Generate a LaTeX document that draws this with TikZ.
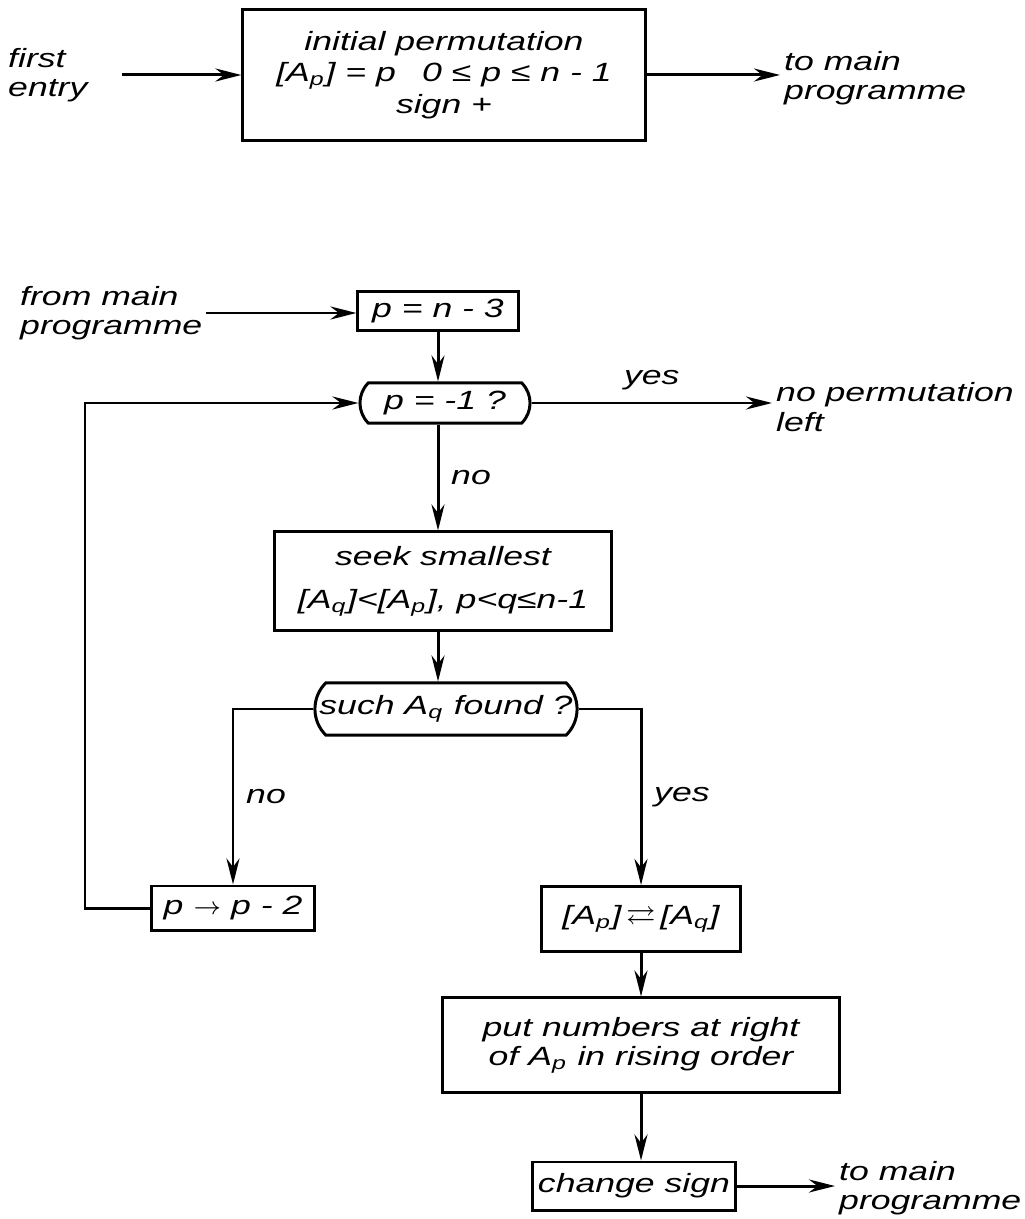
\documentclass[tikz,border=0pt]{standalone}
\usepackage{amssymb}
\usepackage{fontspec}
\setmainfont{Liberation Sans}[FakeStretch=1.35]
\usetikzlibrary{arrows.meta,shapes.misc,positioning}

\begin{document}
\begin{tikzpicture}[x=0.01cm, y=-0.01cm,
    every node/.style={font=\fontsize{7.5}{8.4}\selectfont\itshape},
    box/.style={draw, line width=0.85pt, align=center, inner sep=0pt},
    test/.style={draw, line width=0.85pt, rounded rectangle,
        rounded rectangle arc length=90, inner sep=0pt},
    lbl/.style={align=left, inner sep=1pt},
    arr/.style={line width=0.85pt, -{Stealth[length=2.6mm, width=1.3mm]}}]
    \useasboundingbox (0,0) rectangle (1025,1219);

    % First entry: the initial permutation
    \node[box, minimum width=4.02cm, minimum height=1.3cm] (init) at (444,75)
        {initial permutation\\[0.5pt] [A\textsubscript{p}] = p\quad 0 ≤ p ≤ n - 1\\[0.5pt] sign +};
    \node[lbl, anchor=west] (first) at (4,75) {first\\entry};
    \node[lbl, anchor=west] (main1) at (780,78) {to main\\programme};
    \draw[arr, shorten <=3mm] (first.east) -- (init.west);
    \draw[arr] (init.east) -- (init.east -| main1.west);

    % Later entries: step to the next permutation
    \node[box, minimum width=1.6cm, minimum height=0.38cm] (pn3) at (438,311) {p = n - 3};
    \node[lbl, anchor=west] (from) at (16,313) {from main\\programme};
    \draw[arr] (from.east) -- (from.east -| pn3.west);

    \node[test, minimum width=1.7cm, minimum height=0.4cm] (last) at (445,403) {p = -1 ?};
    \draw[arr] (pn3.south) -- (pn3.south |- last.north);
    \node[lbl, anchor=west] (none) at (772,407) {no permutation\\left};
    \draw[arr] (last.east) -- (last.east -| none.west) node[midway, above] {yes};

    \node[box, minimum width=3.37cm, minimum height=0.98cm] (seek) at (443,581)
        {seek smallest\\[4pt] [A\textsubscript{q}]<[A\textsubscript{p}], p<q≤n-1};
    \draw[arr] (last.south -| pn3) -- (pn3 |- seek.north) node[midway, right] {no};

    \node[test, minimum width=2.62cm, minimum height=0.52cm] (found) at (446,709)
        {such A\textsubscript{q} found ?};
    \draw[arr] (seek.south -| pn3) -- (pn3 |- found.north);

    % Not found: go back two places
    \node[box, minimum width=1.63cm, minimum height=0.44cm] (back) at (233,908)
        {p $\rightarrow$ p - 2};
    \draw[arr] (found.west) -| (back.north) node[pos=0.75, right] {no};
    \coordinate (loop) at (85,908);
    \draw[arr] (back.west) -- (loop) |- (last.west);

    % Found: swap, sort the rest, change the sign
    \node[box, minimum width=1.98cm, minimum height=0.65cm] (swap) at (641,919)
        {[A\textsubscript{p}]\,$\rightleftarrows$\,[A\textsubscript{q}]};
    \draw[arr] (found.east) -| (swap.north) node[pos=0.75, right] {yes};

    \node[box, minimum width=3.97cm, minimum height=0.94cm] (put) at (641,1045)
        {put numbers at right\\ of A\textsubscript{p} in rising order};
    \draw[arr] (swap) -- (put);

    \node[box, minimum width=2.03cm, minimum height=0.48cm] (sign) at (634,1186) {change sign};
    \draw[arr] (put.south) -- (put.south |- sign.north);
    \node[lbl, anchor=west] (main2) at (835,1188) {to main\\programme};
    \draw[arr] (sign.east) -- (sign.east -| main2.west);
\end{tikzpicture}
\end{document}
